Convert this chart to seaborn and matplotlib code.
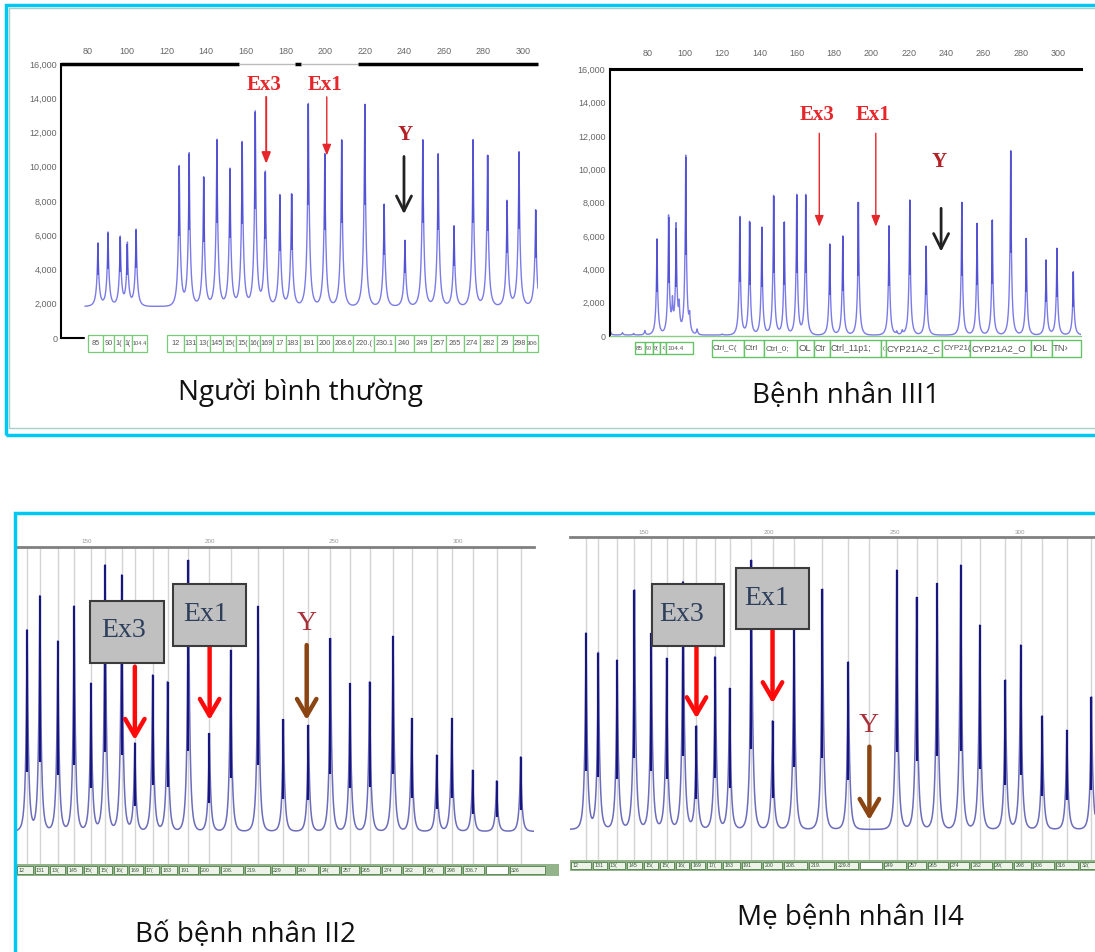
import numpy as np
import pandas as pd
import seaborn as sns
import matplotlib.pyplot as plt
from matplotlib.patches import Rectangle
from matplotlib.transforms import blended_transform_factory

W, H = 1095, 952

# ---- data ----
# top left: normal person (size in bp, peak height in RFU)
tl_bp = [85.3, 90.4, 96.6, 100.2, 104.6, 126.4, 131.4, 138.7, 145.4, 152.0, 158.2, 164.8, 169.9, 177.2,
         183.1, 191.6, 199.9, 208.4, 220.1, 229.9, 240.4, 249.4, 257.2, 265.2, 274.8, 282.1, 292.0, 298.0, 306.4]
tl_height = [5530, 6160, 5870, 5480, 6320, 10020, 10760, 9390, 11580, 9880, 11440, 13200, 9680, 8350,
             8410, 13690, 10760, 11580, 13650, 7820, 5710, 11580, 10760, 6550, 11580, 10660, 8020, 10860, 7490]
tl_labels = ["85", "90", "1(", "1(", "104.4", "12", "131", "13(", "145", "15(", "15(", "16(", "169", "17",
             "183", "191", "200", "208.6", "220.(", "230.1", "240", "249", "257", "265", "274", "282", "29",
             "298", "306"]
tl_groups = [(80.1, 110.3, 0, 5), (120.4, 307.6, 5, 29)]
tl_bar = [(66.8, 156.4, 'k'), (156.4, 184.8, '#bbbbbb'), (184.8, 187.8, 'k'), (187.8, 216.8, '#bbbbbb'),
          (216.8, 307.6, 'k')]

# top right: patient III1
tr_bp = [85.0, 91.2, 95.3, 100.4, 129.4, 134.6, 141.2, 147.5, 153.3, 159.9, 164.7, 177.6, 184.6, 193.0,
         209.4, 220.5, 229.3, 248.4, 256.6, 264.8, 274.6, 283.0, 293.6, 299.4, 308.2]
tr_height = [5820, 7120, 6500, 10760, 7160, 6860, 6520, 8420, 6820, 8460, 8460, 5520, 6000, 8020,
             6620, 8160, 5400, 8020, 6760, 6960, 11120, 5860, 4560, 5260, 3860]
tr_minor_bp = [60.0, 66.5, 72.5, 78.5, 93.3, 96.9, 102.5, 106.5, 120.0, 213.5, 216.5]
tr_minor_height = [300, 200, 150, 320, 1700, 1500, 1000, 400, 120, 250, 300]
tr_small_edges = [73.2, 78.5, 82.6, 86.7, 90.1, 104.1]
tr_small_labels = ["85", "90", "9(", "1(", "104.4"]
tr_big_edges = [114.4, 131.6, 142.5, 160.2, 169.0, 177.5, 205.1, 207.6, 237.9, 252.9, 285.6, 296.8, 312.3]
tr_big_labels = ["Ctrl_C(", "Ctrl", "Ctrl_0;", "OL", "Ctr", "Ctrl_11p1;", "(", "CYP21A2_C", "CYP21(",
                 "CYP21A2_O", "IOL", "TN\u203a"]

# bottom left: father II2
bl_bp = [126.1, 131.25, 138.5, 145.1, 151.9, 157.6, 164.3, 169.6, 176.8, 182.8, 191.25, 199.7, 208.3,
         219.4, 229.6, 239.7, 248.6, 256.5, 264.4, 273.9, 281.4, 291.5, 297.6, 306.0, 315.7, 325.4]
bl_height = [6080, 7100, 5750, 6800, 4480, 8030, 7730, 2680, 4730, 4530, 8180, 2980, 5480,
             6800, 3400, 3230, 5830, 4480, 4530, 5900, 3430, 2330, 3430, 1880, 1560, 2280]
bl_labels = ["12", "131", "13(", "145", "15(", "15(", "16(", "169", "17(", "183", "191", "200", "208.",
             "219.", "229", "240", "24(", "257", "265", "274", "282", "29(", "298", "306.7", "", "326"]

# bottom right: mother II4 (Y bin at 240 has no peak)
br_bp = [127.1, 132.0, 139.5, 146.4, 153.1, 159.2, 165.8, 171.1, 178.6, 184.3, 193.0, 201.4, 210.0,
         221.3, 231.6, 250.9, 258.8, 267.0, 276.4, 284.0, 294.2, 300.3, 308.9, 318.7, 328.5]
br_height = [5920, 5340, 5120, 7220, 5920, 5170, 7470, 3140, 5220, 4270, 8120, 3300, 6400,
             7250, 5070, 7820, 7000, 7420, 7970, 6170, 4520, 5570, 3450, 3020, 4020]
br_labels = ["12", "131", "13(", "145", "15(", "15(", "16(", "169", "17(", "183", "191", "200", "208.",
             "219.", "229.8", "249", "257", "265", "274", "282", "29(", "298", "306", "316", "32("]
br_empty_bin = 239.8

captions = ["Người bình thường", "Bệnh nhân III1", "Bố bệnh nhân II2", "Mẹ bệnh nhân II4"]

sns.set_style('white')
plt.rcParams['font.family'] = ['Liberation Sans', 'DejaVu Sans']

fig = plt.figure(figsize=(W / 100, H / 100), dpi=100)


def px_axes(x0, y0, x1, y1):
    return fig.add_axes([x0 / W, 1 - y1 / H, (x1 - x0) / W, (y1 - y0) / H])


def trace(lo, hi, pos, hts, base, w_core, w_skirt, frac):
    grid = np.sort(np.concatenate([np.arange(lo, hi, 0.04), [p for p in pos if lo < p < hi]]))
    y = np.full_like(grid, float(base))
    for p, h in zip(pos, hts):
        d = np.abs(grid - p)
        y += (h - base) * ((1 - frac) * np.exp(-d / w_core) + frac * np.exp(-d / w_skirt))
    return pd.DataFrame({'bp': grid, 'rfu': y})


def draw_trace(ax, df, color, lw):
    sns.lineplot(data=df, x='bp', y='rfu', ax=ax, color=color, linewidth=lw,
                 estimator=None, sort=False)
    ax.set_xlabel('')
    ax.set_ylabel('')


def arrow(ax, x, y0, y1, color, lw, style, ms):
    ax.annotate('', xy=(x, y1), xytext=(x, y0),
                arrowprops=dict(arrowstyle=style, color=color, lw=lw, mutation_scale=ms,
                                shrinkA=0, shrinkB=0))


def fit_size(fs, text, width_px):
    # shrink a bin label so it stays inside its box
    need = max(len(text), 1) * 0.56 * fs * 1.389
    return fs if need <= width_px else fs * width_px / need


# ---- frames ----
fig.patches.append(Rectangle((6 / W, 1 - 435 / H), 1.2, (435 - 5) / H, transform=fig.transFigure,
                             fill=False, ec='#00c8f2', lw=2.5))
fig.patches.append(Rectangle((9 / W, 1 - 428 / H), 1.2, (428 - 8) / H, transform=fig.transFigure,
                             fill=False, ec='#a8cfc8', lw=1))
fig.patches.append(Rectangle((15 / W, 1 - 1000 / H), 1.2, (1000 - 513) / H, transform=fig.transFigure,
                             fill=False, ec='#00c8f2', lw=2.5))

# ---- top left ----
ax = px_axes(61.3, 64, 538, 338)
ax.set_xlim(66.8, 307.6)
ax.set_ylim(0, 16000)
draw_trace(ax, trace(78.7, 307.6, tl_bp, tl_height, 1850, 0.5, 1.3, 0.3), '#7b7be8', 1.0)
ax.vlines(tl_bp, [1850 + 0.5 * (h - 1850) for h in tl_height], tl_height, color='#4646cc', lw=1.1)
for a, b, c in tl_bar:
    ax.plot([a, b], [16000, 16000], color=c, lw=2.5 if c == 'k' else 1, clip_on=False,
            solid_capstyle='butt')
ax.plot([66.8, 78.5], [0, 0], color='k', lw=1.5, clip_on=False)
for s in ['top', 'right', 'bottom']:
    ax.spines[s].set_visible(False)
ax.spines['left'].set_color('k')
ax.spines['left'].set_linewidth(1.5)
ax.set_yticks(range(0, 16001, 2000))
ax.set_yticklabels([f'{v:,}' for v in range(0, 16001, 2000)])
ax.xaxis.tick_top()
ax.set_xticks(range(80, 301, 20))
ax.tick_params(axis='x', length=0, pad=6, labelsize=6.5, labelcolor='#666666')
ax.tick_params(axis='y', length=0, pad=3, labelsize=6.5, labelcolor='#666666')
trans = blended_transform_factory(ax.transData, ax.transAxes)
for lo, hi, i0, i1 in tl_groups:
    pos = tl_bp[i0:i1]
    edges = [lo] + [(pos[k] + pos[k + 1]) / 2 for k in range(len(pos) - 1)] + [hi]
    for k in range(len(pos)):
        r = Rectangle((edges[k], -0.051), edges[k + 1] - edges[k], 0.062, transform=trans,
                      fc='white', ec='#77cc77', lw=0.9, clip_on=False)
        ax.add_patch(r)
        lab = tl_labels[i0 + k]
        t = ax.text((edges[k] + edges[k + 1]) / 2, -0.02, lab, transform=trans,
                    ha='center', va='center', fontsize=fit_size(5.3, lab, (edges[k + 1] - edges[k]) * 1.98),
                    color='#555555', clip_on=False)
        t.set_clip_path(r)
ax.text(169.2, 14800, 'Ex3', ha='center', va='center', fontsize=15, fontweight='bold',
        family='Liberation Serif', color='#e5262a')
ax.text(200.2, 14800, 'Ex1', ha='center', va='center', fontsize=15, fontweight='bold',
        family='Liberation Serif', color='#e5262a')
ax.text(240.3, 11830, 'Y', ha='center', va='center', fontsize=15, fontweight='bold',
        family='Liberation Serif', color='#b52025')
arrow(ax, 170.3, 14080, 10170, '#e5262a', 1.4, '-|>,head_length=0.55,head_width=0.22', 12)
arrow(ax, 200.9, 14080, 10660, '#e5262a', 1.0, '-|>,head_length=0.55,head_width=0.22', 12)
arrow(ax, 239.9, 10600, 7237, '#222222', 2.0, '->,head_length=0.6,head_width=0.3', 18)

# ---- top right ----
ax = px_axes(609.6, 69.3, 1081, 336)
ax.set_xlim(59.6, 312.3)
ax.set_ylim(0, 16000)
draw_trace(ax, trace(59.6, 312.3, tr_bp + tr_minor_bp, tr_height + tr_minor_height, 60, 0.42, 1.2, 0.25),
           '#7b7be8', 1.0)
ax.vlines(tr_bp, [0.45 * h for h in tr_height], tr_height, color='#4646cc', lw=1.1)
ax.spines['right'].set_visible(False)
ax.spines['top'].set_color('k')
ax.spines['top'].set_linewidth(2.2)
ax.spines['left'].set_color('k')
ax.spines['left'].set_linewidth(1.5)
ax.spines['bottom'].set_color('#88cc88')
ax.spines['bottom'].set_linewidth(1)
ax.set_yticks(range(0, 16001, 2000))
ax.set_yticklabels([f'{v:,}' for v in range(0, 16001, 2000)])
ax.xaxis.tick_top()
ax.set_xticks(range(80, 301, 20))
ax.tick_params(axis='x', length=0, pad=8, labelsize=6.5, labelcolor='#666666')
ax.tick_params(axis='y', length=0, pad=3, labelsize=6.5, labelcolor='#666666')
trans = blended_transform_factory(ax.transData, ax.transAxes)
for edges, labels, y0, hgt, fs in [(tr_small_edges, tr_small_labels, -0.0675, 0.045, 4.6),
                                   (tr_big_edges, tr_big_labels, -0.079, 0.064, 6.8)]:
    for k, lab in enumerate(labels):
        r = Rectangle((edges[k], y0), edges[k + 1] - edges[k], hgt, transform=trans,
                      fc='white', ec='#66c266', lw=1.0, clip_on=False)
        ax.add_patch(r)
        t = ax.text(edges[k] + 0.6, y0 + hgt / 2, lab, transform=trans, ha='left', va='center',
                    fontsize=fit_size(fs, lab, (edges[k + 1] - edges[k] - 0.8) * 1.865),
                    color='#555555', clip_on=False)
        t.set_clip_path(r)
ax.text(170.9, 13260, 'Ex3', ha='center', va='center', fontsize=15, fontweight='bold',
        family='Liberation Serif', color='#e5262a')
ax.text(200.8, 13260, 'Ex1', ha='center', va='center', fontsize=15, fontweight='bold',
        family='Liberation Serif', color='#e5262a')
ax.text(236.4, 10460, 'Y', ha='center', va='center', fontsize=15, fontweight='bold',
        family='Liberation Serif', color='#b52025')
arrow(ax, 172.0, 12160, 6560, '#e5262a', 1.0, '-|>,head_length=0.55,head_width=0.22', 12)
arrow(ax, 202.3, 12160, 6560, '#e5262a', 1.0, '-|>,head_length=0.55,head_width=0.22', 12)
arrow(ax, 237.3, 7660, 5060, '#222222', 2.0, '->,head_length=0.6,head_width=0.3', 18)


# ---- bottom panels ----
def bottom_panel(rect, xlim, ylim, pos, hts, labels, bins, bar_h, boxes, y_text, y_arrow):
    ax = px_axes(*rect)
    ax.set_xlim(*xlim)
    ax.set_ylim(*ylim)
    for b in bins:
        ax.axvline(b, ymin=bar_h, ymax=1, color='#d4d4d4', lw=1, zorder=0)
    draw_trace(ax, trace(xlim[0], xlim[1], pos, hts, 40, 0.5, 1.1, 0.22), '#6c6cbc', 1.1)
    ax.vlines(pos, [0.3 * h for h in hts], hts, color='#16167c', lw=1.6)
    for s in ['left', 'right', 'bottom']:
        ax.spines[s].set_visible(False)
    ax.spines['top'].set_color('#808080')
    ax.spines['top'].set_linewidth(2)
    ax.set_yticks([])
    ax.xaxis.tick_top()
    ax.set_xticks([150, 200, 250, 300])
    ax.tick_params(axis='x', length=0, pad=2, labelsize=4.5, labelcolor='#999999')
    trans = blended_transform_factory(ax.transData, ax.transAxes)
    ax.add_patch(Rectangle((xlim[0], 0), xlim[1] - xlim[0] + 10, bar_h, transform=trans,
                           fc='#93b48b', ec='none', clip_on=False))
    edges = [xlim[0]] + [(bins[k] + bins[k + 1]) / 2 for k in range(len(bins) - 1)] + [xlim[1] + 5]
    for k, lab in enumerate(labels):
        r = Rectangle((edges[k] + 0.4, bar_h * 0.15), edges[k + 1] - edges[k] - 0.8, bar_h * 0.7,
                      transform=trans, fc='#eef3ea' if lab else 'white', ec='#4f7d49', lw=0.6,
                      clip_on=False)
        ax.add_patch(r)
        t = ax.text(edges[k] + 0.9, bar_h / 2, lab, transform=trans, ha='left', va='center',
                    fontsize=fit_size(3.8, lab, (edges[k + 1] - edges[k] - 1.6) * 2.48),
                    color='#335533', clip_on=False)
        t.set_clip_path(r)
    for name, x0, x1, y0, y1, tx, ty, ax_x, a0, a1 in boxes:
        ax.add_patch(Rectangle((x0, y0), x1 - x0, y1 - y0, fc='#c0c0c0', ec='#3c3c3c',
                               lw=1.5, zorder=5))
        ax.text(tx, ty, name, ha='center', va='center', fontsize=20, family='Liberation Serif',
                color='#2e3f5c', zorder=6)
        arrow(ax, ax_x, a0, a1, '#ff0a0a', 3.2, '->,head_length=0.6,head_width=0.35', 20)
    ax.text(y_text[0], y_text[1], 'Y', ha='center', va='center', fontsize=20,
            family='Liberation Serif', color='#a8323a')
    arrow(ax, *y_arrow, '#8b4513', 3.2, '->,head_length=0.6,head_width=0.35', 20)
    return ax


bottom_panel((16, 546.7, 534, 876), (121.6, 330.8), (-1299, 8580), bl_bp, bl_height, bl_labels,
             bl_bp, 0.036,
             [('Ex3', 151.5, 181.3, 5080, 6950, 165.0, 6080, 169.6, 4980, 2780),
              ('Ex1', 184.9, 214.3, 5600, 7460, 198.0, 6560, 199.8, 5600, 3380)],
             (238.8, 6280), (239.0, 5630, 3380))

br_bins = sorted(br_bp + [br_empty_bin])
br_bin_labels = br_labels[:15] + [""] + br_labels[15:]
bottom_panel((570, 537.3, 1095, 871), (120.7, 329.9), (-1209, 8800), br_bp, br_height, br_bin_labels,
             br_bins, 0.033,
             [('Ex3', 153.4, 182.0, 5550, 7400, 165.2, 6470, 171.1, 5550, 3370),
              ('Ex1', 187.0, 216.0, 6040, 7870, 199.2, 6970, 201.4, 6020, 3820)],
             (239.8, 3170), (240.0, 2520, 320))

# ---- captions ----
cap_font = ['Open Sans', 'DejaVu Sans']
for txt, x, y in zip(captions, [300, 846, 245, 850], [393, 396, 935, 918]):
    fig.text(x / W, 1 - y / H, txt, ha='center', va='center', fontsize=20, family=cap_font,
             color='#111111')

fig.savefig('out.png', dpi=100)
